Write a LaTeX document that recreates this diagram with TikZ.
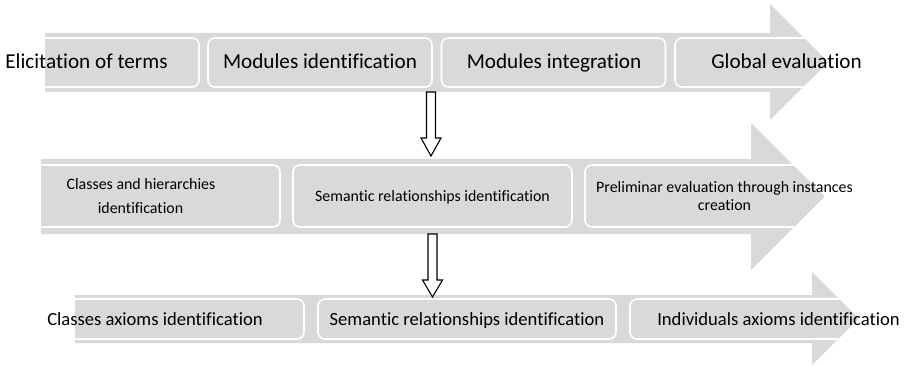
\documentclass[tikz,border=0pt]{standalone}
\usepackage{fontspec}
\setmainfont{Carlito}[Ligatures=NoCommon]
\definecolor{band}{HTML}{D9D9D9}
\tikzset{
  stagebox/.style={fill=band, draw=white, line width=1.6pt, rounded corners=7pt,
    inner sep=0pt, anchor=center},
  label/.style={inner sep=0pt, anchor=base, text=black},
  bigtxt/.style={label, font=\fontsize{21.2}{25}\selectfont},
  midtxt/.style={label, font=\fontsize{15.9}{19}\selectfont},
  lowtxt/.style={label, font=\fontsize{18.6}{22}\selectfont},
  hollowarrow/.style={draw=black, fill=white, line width=1.1pt, line join=miter},
}
% grey process bands: shaft from x1 to the head base xb, shaft y from ys1 to ys2,
% head from yh1 to yh2, tip at xt
\newcommand\bandpath[7]{(#1,#3) -- (#2,#3) -- (#2,#5) -- (#7,{(#5+#6)/2}) -- (#2,#6) -- (#2,#4) -- (#1,#4) -- cycle}
% hollow down arrow: centre x, top, head base, tip
\newcommand\downblock[4]{%
  \draw[hollowarrow] ({#1-4.5},#2) -- ({#1-4.5},#3) -- ({#1-10},#3) -- (#1,#4)
    -- ({#1+10},#3) -- ({#1+4.5},#3) -- ({#1+4.5},#2) -- cycle;}
\begin{document}
\begin{tikzpicture}[x=1pt,y=-1pt]
\useasboundingbox (0,0) rectangle (909,366);

% ---- top band ----
\def\bandtop{\bandpath{45}{770}{33}{92}{4}{120}{828}}
\fill[band] \bandtop;
\begin{scope}
  \clip \bandtop;
  \node[stagebox, minimum width=224pt, minimum height=49pt] (t1) at (87,62.5) {};
  \node[stagebox, minimum width=224pt, minimum height=49pt] (t2) at (320,62.5) {};
  \node[stagebox, minimum width=224pt, minimum height=49pt] (t3) at (553.5,62.5) {};
  \node[stagebox, minimum width=224pt, minimum height=49pt] (t4) at (787,62.5) {};
\end{scope}
\node[bigtxt] (lt1) at (86.5,69) {Elicitation of terms};
\node[bigtxt] (lt2) at (320,69) {Modules identification};
\node[bigtxt] (lt3) at (554,69) {Modules integration};
\node[bigtxt] (lt4) at (786.5,69) {Global evaluation};

% ---- middle band ----
\def\bandmid{\bandpath{41}{751}{159}{234}{123}{270}{824.5}}
\fill[band] \bandmid;
\begin{scope}
  \clip \bandmid;
  \node[stagebox, minimum width=279pt, minimum height=62pt] (m1) at (140.5,196) {};
  \node[stagebox, minimum width=279pt, minimum height=62pt] (m2) at (432.5,196) {};
  \node[stagebox, minimum width=279pt, minimum height=62pt] (m3) at (724.5,196) {};
\end{scope}
\node[midtxt] (lm1a) at (141,189.3) {Classes and hierarchies};
\node[midtxt] (lm1b) at (140.5,213) {identification};
\node[midtxt] (lm2) at (432.5,201.7) {Semantic relationships identification};
\node[midtxt] (lm3a) at (724.5,192.3) {Preliminar evaluation through instances};
\node[midtxt] (lm3b) at (724.5,210.3) {creation};

% ---- bottom band ----
\def\bandlow{\bandpath{75}{812}{295}{343}{272}{365}{858.5}}
\fill[band] \bandlow;
\begin{scope}
  \clip \bandlow;
  \node[stagebox, minimum width=298pt, minimum height=40pt] (b1) at (155,319) {};
  \node[stagebox, minimum width=298pt, minimum height=40pt] (b2) at (467,319) {};
  \node[stagebox, minimum width=298pt, minimum height=40pt] (b3) at (779,319) {};
\end{scope}
\node[lowtxt] (lb1) at (155,325) {Classes axioms identification};
\node[lowtxt] (lb2) at (467,325) {Semantic relationships identification};
\node[lowtxt] (lb3) at (778.5,325) {Individuals axioms identification};

% ---- links between the levels ----
\downblock{431}{92}{138}{156}
\downblock{432.5}{234}{280}{297}
\end{tikzpicture}
\end{document}
